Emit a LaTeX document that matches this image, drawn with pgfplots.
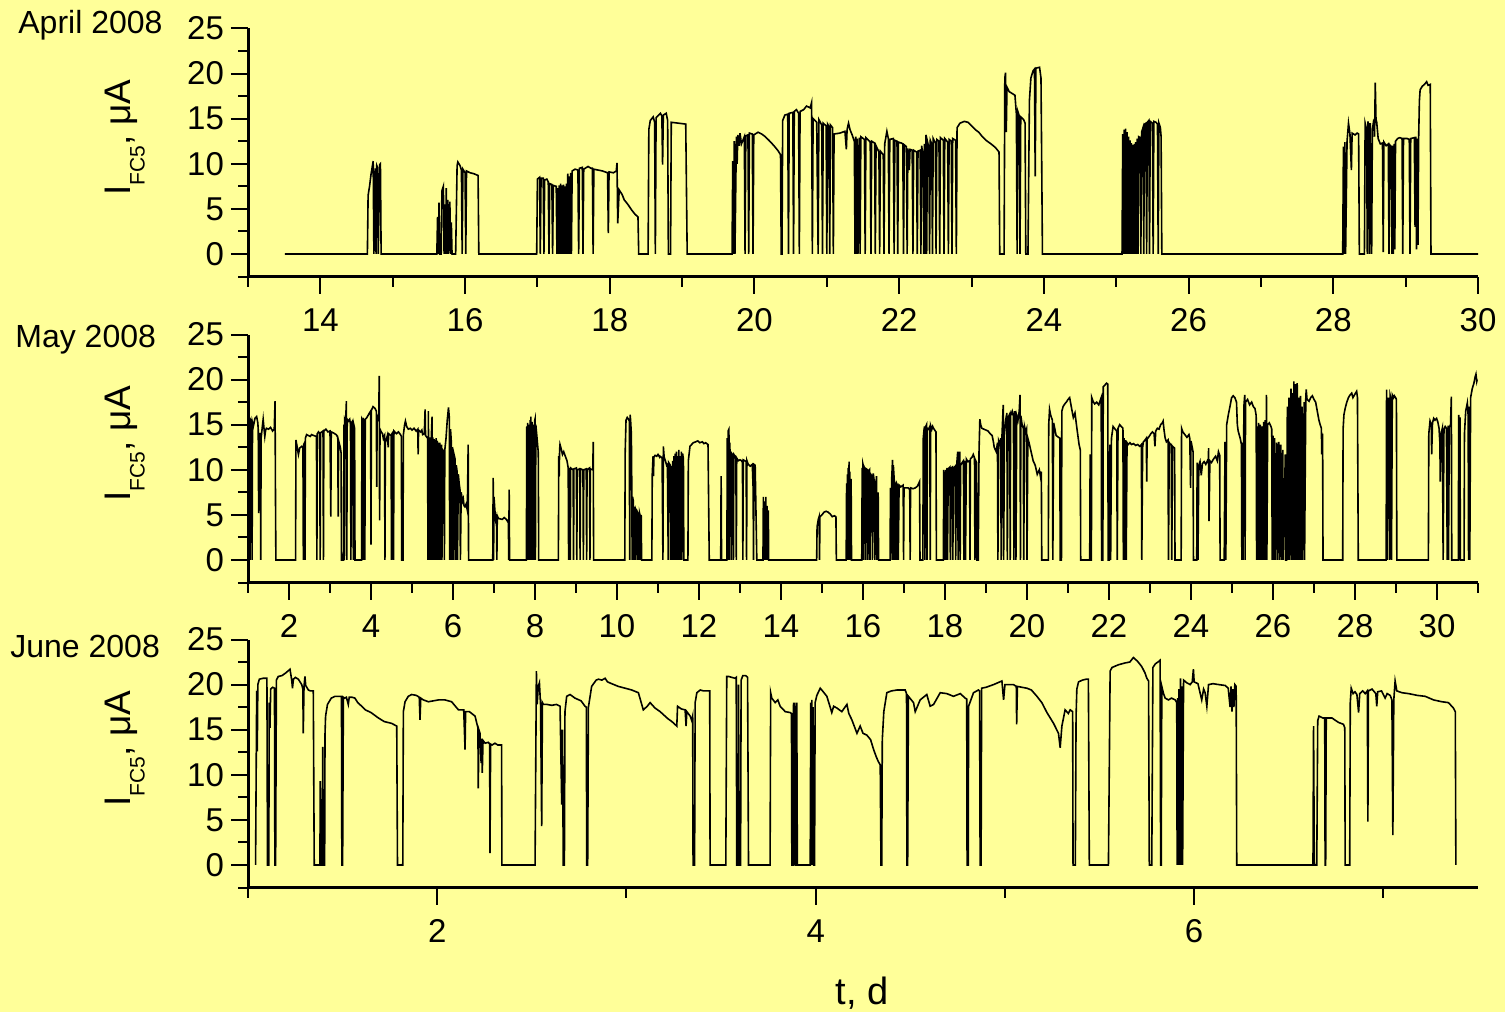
\documentclass[border=0pt]{standalone}
\usepackage{pgfplots}
\pgfplotsset{compat=1.18}
\usepackage{fontspec}
\setmainfont{Liberation Sans}
\definecolor{bgyellow}{RGB}{255,255,153}

\pgfplotsset{
  panel/.style={
    scale only axis, width=615pt, height=124pt,
    axis lines*=left,
    axis line style={line width=1.5pt},
    ymin=-2.5, ymax=25,
    ytick={0,5,...,25}, minor ytick={-2.5,2.5,...,22.5},
    tick align=outside,
    major tick length=8.5pt, minor tick length=5pt,
    every tick/.style={black, line width=1pt},
    tick label style={font=\fontsize{16.5}{16.5}\selectfont},
    xticklabel style={yshift=-4pt},
    /pgf/number format/assume math mode=true,
    ylabel={\fontsize{18.5}{18.5}\selectfont I\raisebox{-7pt}{\fontsize{10.5}{10.5}\selectfont FC5}, μA},
    ylabel style={at={(axis description cs:-0.100,0.56)}, anchor=center},
    clip=false,
  },
  signal/.style={black, line width=0.8pt, no marks},
}

\begin{document}
\begin{tikzpicture}
\useasboundingbox (0,0) rectangle (752.5pt,-506pt);
\fill[bgyellow] (0,0) rectangle (752.5pt,-506pt);

% April 2008
\begin{axis}[panel, at={(124pt,-138.25pt)}, anchor=south west,
    xmin=13, xmax=30, xtick={14,16,...,30}, minor xtick={13,15,...,29}]
\addplot[signal] coordinates {
(13.51,0)(14.65,0)(14.66,6.5)(14.68,7.5)(14.70,8.8)(14.72,9.8)(14.73,10.3)(14.74,0)(14.76,9.5)(14.77,0)(14.78,9.8)(14.79,9.6)(14.80,0)(14.82,9.9)(14.83,10.0)(14.84,0)
(15.61,0)(15.62,4.1)(15.63,0)(15.64,5.7)(15.65,0)(15.67,0)(15.68,7.0)(15.70,7.5)(15.71,0)(15.72,5.5)(15.73,0)(15.74,7.3)(15.75,0)(15.76,6.0)(15.77,0)(15.79,5.8)(15.80,0)(15.81,3.5)(15.82,0)(15.87,0)(15.89,9.8)(15.90,10.2)(15.93,9.8)(15.95,9.3)(15.96,0)(15.97,9.4)(16.00,9.0)(16.01,0)(16.02,9.2)(16.07,9.0)(16.12,8.9)(16.18,8.7)(16.19,0)
(16.99,0)(17.00,8.3)(17.03,8.5)(17.04,0)(17.05,8.4)(17.08,8.4)(17.09,0)(17.10,8.2)(17.13,8.3)(17.15,8.0)(17.16,0)(17.17,7.8)(17.20,7.7)(17.21,0)(17.22,7.6)(17.26,7.5)(17.27,0)(17.28,7.3)(17.29,0)(17.30,7.6)(17.31,0)(17.32,7.8)(17.33,0)(17.34,7.6)(17.35,0)(17.36,7.7)(17.37,0)(17.38,7.5)(17.39,0)(17.40,7.8)(17.41,0)(17.42,8.9)(17.43,0)(17.44,8.6)(17.45,0)(17.46,9.0)(17.47,0)(17.48,9.2)(17.52,9.4)(17.56,9.3)(17.57,0)(17.58,9.5)(17.62,9.6)(17.63,0)(17.64,9.4)(17.70,9.7)(17.74,9.5)(17.76,9.5)(17.77,0)(17.78,9.4)(17.84,9.3)(17.90,9.2)(17.97,9.0)(17.98,2.3)(17.99,9.1)(18.05,9.0)(18.09,9.2)(18.10,10.1)(18.11,3.4)(18.13,7.1)(18.17,6.6)(18.20,6.0)(18.25,5.5)(18.30,4.9)(18.35,4.4)(18.39,4.1)(18.40,0)
(18.53,0)(18.54,13.8)(18.56,14.8)(18.60,15.2)(18.62,14.6)(18.63,0)(18.64,15.1)(18.70,15.6)(18.72,15.3)(18.73,9.9)(18.74,15.4)(18.78,15.6)(18.80,14.8)(18.81,0)(18.84,0)(18.85,14.6)(18.95,14.5)(19.05,14.4)(19.07,0)
(19.69,0)(19.70,10.3)(19.71,0)(19.72,12.5)(19.73,0)(19.75,13.0)(19.76,10.0)(19.77,13.2)(19.79,12.0)(19.80,13.4)(19.82,12.2)(19.86,13.0)(19.87,0)(19.88,13.1)(19.91,13.2)(19.92,0)(19.93,13.4)(19.97,13.3)(19.98,0)(19.99,13.2)(20.05,13.5)(20.10,13.3)(20.15,13.0)(20.20,12.6)(20.27,12.0)(20.33,11.4)(20.36,11.0)(20.37,0)
(20.38,0)(20.39,14.8)(20.42,15.4)(20.46,15.5)(20.47,0)(20.48,15.6)(20.53,15.7)(20.54,0)(20.55,15.8)(20.58,16.0)(20.61,15.6)(20.62,0)(20.63,15.8)(20.68,16.0)(20.72,16.4)(20.77,16.2)(20.79,16.8)(20.80,0)(20.81,15.0)(20.86,14.6)(20.88,0)(20.89,14.9)(20.93,14.3)(20.94,0)(20.95,14.5)(20.99,14.2)(21.00,0)(21.01,14.4)(21.03,14.1)(21.04,0)(21.05,14.3)(21.08,14.0)(21.09,0)(21.10,13.3)(21.18,13.4)(21.25,13.6)(21.27,11.6)(21.28,13.8)(21.30,14.5)(21.32,13.8)(21.35,13.2)(21.38,12.5)(21.39,0)(21.40,13.0)(21.41,0)(21.42,12.8)(21.43,0)(21.45,12.9)(21.46,0)(21.47,13.0)(21.52,12.7)(21.53,0)(21.54,12.9)(21.60,12.4)(21.61,0)(21.62,12.5)(21.66,12.3)(21.67,0)(21.68,12.0)(21.72,11.3)(21.73,0)(21.74,11.4)(21.78,11.0)(21.79,0)(21.80,12.2)(21.83,13.6)(21.85,12.8)(21.86,0)(21.87,12.7)(21.92,12.8)(21.93,0)(21.94,12.6)(21.97,12.5)(21.98,0)(21.99,12.4)(22.03,12.3)(22.05,12.2)(22.06,0)(22.07,12.1)(22.10,11.9)(22.11,0)(22.12,11.7)(22.14,9.3)(22.15,11.6)(22.18,11.5)(22.19,0)(22.20,11.5)(22.24,11.3)(22.25,0)(22.26,11.4)(22.29,11.5)(22.30,0)(22.31,12.0)(22.33,11.0)(22.34,0)(22.35,12.2)(22.36,0)(22.37,13.2)(22.38,0)(22.39,12.5)(22.41,11.8)(22.42,0)(22.43,12.6)(22.45,12.2)(22.46,0)(22.47,12.8)(22.50,12.3)(22.51,0)(22.52,12.7)(22.55,12.5)(22.56,0)(22.57,12.9)(22.61,12.6)(22.62,0)(22.63,12.8)(22.67,12.4)(22.68,0)(22.69,12.7)(22.72,12.5)(22.73,0)(22.74,12.8)(22.78,12.6)(22.79,0)(22.80,14.0)(22.84,14.5)(22.90,14.7)(22.95,14.6)(23.00,14.2)(23.05,13.8)(23.10,13.5)(23.15,13.0)(23.20,12.6)(23.27,12.2)(23.33,11.8)(23.38,11.3)(23.39,0)
(23.45,0)(23.46,19.5)(23.47,20.1)(23.48,13.5)(23.49,18.5)(23.52,18.0)(23.56,17.8)(23.60,17.6)(23.62,15.5)(23.63,0)(23.64,15.8)(23.66,15.3)(23.67,0)(23.68,15.2)(23.72,14.9)(23.74,14.5)(23.75,0)(23.78,0)(23.80,17.0)(23.82,19.5)(23.85,20.3)(23.87,20.5)(23.88,8.6)(23.89,20.6)(23.94,20.7)(23.96,19.5)(23.97,10.0)(23.98,0)
(25.08,0)(25.09,13.3)(25.10,0)(25.11,13.8)(25.12,0)(25.13,13.9)(25.14,0)(25.15,13.5)(25.16,0)(25.17,13.0)(25.18,0)(25.19,12.6)(25.20,0)(25.21,12.3)(25.22,0)(25.23,12.1)(25.24,0)(25.25,12.2)(25.26,0)(25.27,12.4)(25.28,0)(25.29,12.8)(25.30,0)(25.31,13.0)(25.33,12.9)(25.34,0)(25.35,13.5)(25.37,14.0)(25.38,0)(25.39,14.4)(25.41,14.5)(25.42,0)(25.43,14.6)(25.45,14.8)(25.46,0)(25.47,14.7)(25.50,14.5)(25.51,0)(25.52,14.7)(25.55,14.6)(25.57,14.4)(25.58,0)(25.59,14.5)(25.61,14.0)(25.62,13.0)(25.63,0)
(28.13,0)(28.14,11.9)(28.15,0)(28.16,12.4)(28.17,0)(28.19,12.5)(28.21,14.5)(28.23,13.3)(28.25,9.3)(28.26,13.4)(28.30,13.2)(28.33,13.4)(28.35,13.3)(28.36,0)(28.43,0)(28.44,14.5)(28.46,13.8)(28.47,0)(28.48,14.7)(28.49,13.9)(28.50,0)(28.51,14.5)(28.53,0)(28.54,13.8)(28.56,14.9)(28.57,13.0)(28.58,19.0)(28.59,14.9)(28.60,14.6)(28.62,12.8)(28.65,12.2)(28.68,12.3)(28.69,0.2)(28.70,12.4)(28.73,12.0)(28.76,12.2)(28.77,0)(28.78,12.1)(28.80,11.9)(28.81,0)(28.82,12.0)(28.83,0)(28.84,12.2)(28.85,0.5)(28.86,12.5)(28.89,12.8)(28.92,12.9)(28.95,12.8)(28.96,0)(28.97,12.8)(29.02,12.8)(29.05,12.7)(29.06,0)(29.07,12.8)(29.12,12.9)(29.13,3.0)(29.14,13.0)(29.15,0.5)(29.16,12.8)(29.17,1.0)(29.18,13.0)(29.19,17.0)(29.20,18.2)(29.23,18.6)(29.26,18.8)(29.29,19.1)(29.31,18.7)(29.34,18.8)(29.35,0)(30.00,0)
};
\end{axis}

% May 2008
\begin{axis}[panel, at={(124pt,-291.25pt)}, anchor=south west,
    xmin=1, xmax=31, xtick={2,4,...,30}, minor xtick={1,3,...,31}]
\addplot[signal] coordinates {
(1.00,15.2)(1.01,0)(1.02,15.8)(1.04,15.5)(1.05,0)(1.06,15.6)(1.09,15.4)(1.10,0)(1.11,15.2)(1.13,14.8)(1.17,15.7)(1.21,15.9)(1.24,15.2)(1.25,14.4)(1.26,5.2)(1.27,14.0)(1.30,14.0)(1.31,0)(1.32,13.5)(1.35,14.8)(1.37,15.6)(1.39,14.6)(1.41,13.7)(1.43,14.4)(1.45,14.6)(1.50,14.5)(1.55,14.7)(1.60,14.3)(1.64,14.5)(1.66,17.6)(1.67,7.4)(1.68,0)
(2.16,0)(2.17,13.3)(2.20,12.5)(2.23,11.7)(2.26,12.4)(2.31,12.6)(2.34,12.5)(2.35,0)(2.36,12.8)(2.38,13.0)(2.39,0)(2.40,13.5)(2.43,13.9)(2.47,13.8)(2.52,13.7)(2.55,13.9)(2.60,13.8)(2.67,13.7)(2.68,0)(2.69,14.0)(2.72,14.2)(2.75,14.0)(2.76,0)(2.77,14.1)(2.83,14.3)(2.84,0)(2.85,14.3)(2.90,14.5)(2.95,14.2)(3.00,14.3)(3.02,4.8)(3.03,14.2)(3.08,14.1)(3.15,13.9)(3.19,13.6)(3.20,4.8)(3.21,13.2)(3.25,12.5)(3.27,11.9)(3.28,0)(3.33,0)(3.34,15.0)(3.35,0)(3.36,15.5)(3.38,15.2)(3.40,17.6)(3.41,0)(3.42,15.6)(3.45,15.4)(3.48,15.6)(3.50,15.0)(3.51,0)(3.52,15.2)(3.55,15.4)(3.57,0)(3.58,15.0)(3.60,14.6)(3.61,0)
(3.77,0)(3.78,15.6)(3.80,15.4)(3.81,0)(3.82,15.6)(3.84,15.5)(3.85,0)(3.86,15.6)(3.90,15.8)(3.95,16.2)(3.99,16.5)(4.00,1.7)(4.01,16.6)(4.05,17.0)(4.10,16.8)(4.13,16.5)(4.14,8.1)(4.15,16.0)(4.19,15.5)(4.20,20.4)(4.21,4.4)(4.22,14.5)(4.25,14.2)(4.28,14.0)(4.30,13.5)(4.33,13.8)(4.34,0)(4.35,13.0)(4.40,13.8)(4.42,12.5)(4.43,14.0)(4.49,13.8)(4.50,0)(4.51,14.0)(4.54,14.2)(4.55,0)(4.56,14.3)(4.62,14.0)(4.67,14.2)(4.72,13.9)(4.74,13.7)(4.75,0)(4.78,0)(4.79,13.9)(4.82,15.0)(4.84,15.4)(4.87,14.8)(4.91,14.5)(4.96,14.6)(5.00,14.4)(5.05,14.6)(5.10,14.3)(5.14,14.5)(5.15,11.7)(5.16,14.4)(5.21,14.2)(5.24,14.4)(5.26,13.9)(5.30,14.0)(5.32,16.7)(5.33,13.8)(5.38,13.5)(5.39,0)(5.40,16.5)(5.41,0)(5.42,13.4)(5.44,0)(5.45,13.6)(5.46,0)(5.47,13.5)(5.49,15.9)(5.50,0)(5.51,13.6)(5.52,0)(5.54,13.4)(5.55,0)(5.56,13.3)(5.58,0)(5.59,13.5)(5.61,0)(5.62,13.2)(5.64,0)(5.65,13.0)(5.66,0)(5.68,13.0)(5.70,0)(5.72,12.8)(5.73,0)(5.75,12.2)(5.78,12.0)(5.79,0)(5.80,12.2)(5.83,13.5)(5.86,15.5)(5.89,16.9)(5.91,15.8)(5.92,0)(5.94,14.5)(5.96,13.0)(5.97,0)(5.98,12.5)(6.00,11.5)(6.01,0)(6.02,11.8)(6.05,11.2)(6.06,0)(6.08,10.5)(6.10,9.8)(6.11,0)(6.13,9.5)(6.15,8.5)(6.17,7.8)(6.18,0)(6.20,7.5)(6.23,6.5)(6.25,6.8)(6.27,6.0)(6.29,5.9)(6.32,6.2)(6.35,5.5)(6.37,12.8)(6.38,0)
(6.97,0)(6.98,9.1)(6.99,0)(7.00,7.0)(7.02,5.6)(7.04,4.5)(7.06,4.8)(7.07,0)(7.08,4.9)(7.11,4.6)(7.20,4.5)(7.25,4.7)(7.30,4.5)(7.34,4.2)(7.35,4.5)(7.36,0)(7.37,7.8)(7.38,0)
(7.79,0)(7.80,14.8)(7.81,0)(7.82,15.2)(7.84,0)(7.85,15.0)(7.86,0)(7.88,15.5)(7.89,0)(7.90,15.9)(7.91,0)(7.93,15.3)(7.94,0)(7.96,15.0)(7.97,0)(7.99,15.4)(8.00,15.6)(8.01,0)(8.02,15.0)(8.05,13.5)(8.08,11.9)(8.09,0)
(8.57,0)(8.58,11.5)(8.59,9.3)(8.60,12.2)(8.61,12.8)(8.64,12.3)(8.67,11.7)(8.70,12.0)(8.74,11.5)(8.78,11.0)(8.81,10.2)(8.82,0)(8.83,10.1)(8.85,10.0)(8.86,0)(8.87,10.2)(8.93,10.0)(8.94,0)(8.95,10.1)(9.01,10.2)(9.02,0)(9.03,10.0)(9.09,10.1)(9.10,0)(9.11,10.1)(9.17,10.0)(9.18,0)(9.19,10.0)(9.25,10.1)(9.26,0)(9.27,10.0)(9.33,10.2)(9.34,0)(9.35,10.1)(9.41,10.0)(9.42,13.1)(9.43,0)
(10.19,0)(10.20,12.0)(10.22,15.5)(10.25,15.8)(10.28,15.6)(10.30,15.4)(10.31,0)(10.32,16.1)(10.33,15.6)(10.35,14.0)(10.36,8.5)(10.37,0)(10.38,7.0)(10.40,6.5)(10.41,0)(10.43,5.9)(10.44,0)(10.46,5.5)(10.48,5.2)(10.49,0)(10.50,5.3)(10.52,5.1)(10.53,0)(10.55,5.2)(10.57,4.8)(10.58,0)(10.59,5.0)(10.60,0)
(10.85,0)(10.86,9.5)(10.88,11.5)(10.89,9.3)(10.90,11.4)(10.93,11.6)(10.97,11.5)(11.00,11.7)(11.04,11.4)(11.05,11.5)(11.10,11.3)(11.12,0)(11.13,12.6)(11.15,11.4)(11.18,11.0)(11.21,10.5)(11.23,10.6)(11.25,0)(11.26,10.8)(11.30,10.5)(11.31,0)(11.33,10.4)(11.35,0)(11.36,11.0)(11.38,0)(11.39,11.5)(11.40,0)(11.42,11.8)(11.43,0)(11.45,12.0)(11.46,0)(11.48,11.5)(11.49,0)(11.51,12.2)(11.52,0)(11.54,11.5)(11.55,0)(11.57,12.0)(11.58,0)(11.60,11.8)(11.62,11.2)(11.63,0)
(11.73,0)(11.74,11.0)(11.78,12.6)(11.82,12.8)(11.86,13.0)(11.92,13.1)(11.97,13.2)(12.02,13.0)(12.08,13.1)(12.12,12.9)(12.16,13.0)(12.22,12.8)(12.25,0)
(12.53,0)(12.54,9.3)(12.55,0)(12.68,0)(12.69,13.5)(12.70,0)(12.71,14.3)(12.73,14.5)(12.74,0)(12.75,13.0)(12.76,11.5)(12.78,11.4)(12.79,0)(12.80,11.8)(12.83,11.6)(12.84,0)(12.85,11.7)(12.88,11.5)(12.90,11.2)(12.91,0)(12.92,11.3)(12.96,11.0)(13.00,11.1)(13.04,11.0)(13.06,10.8)(13.07,0)(13.08,11.1)(13.12,11.0)(13.15,10.9)(13.16,0)(13.17,11.0)(13.20,10.6)(13.25,10.4)(13.30,10.6)(13.32,8.0)(13.33,0)(13.34,10.6)(13.37,10.5)(13.41,0)
(13.56,0)(13.57,7.0)(13.58,0)(13.59,6.5)(13.60,0)(13.61,5.9)(13.62,0)(13.63,7.0)(13.64,0)(13.66,6.0)(13.67,0)(13.69,5.5)(13.70,0)
(14.87,0)(14.88,3.7)(14.91,4.5)(14.93,4.8)(14.94,0)(14.95,4.8)(15.00,5.0)(15.05,5.3)(15.10,5.4)(15.15,5.3)(15.20,5.1)(15.25,4.8)(15.30,4.9)(15.34,4.8)(15.35,0)
(15.59,0)(15.60,8.5)(15.61,0)(15.62,9.5)(15.63,0)(15.64,10.2)(15.65,0)(15.66,10.9)(15.67,0)(15.68,9.8)(15.69,0)(15.71,9.0)(15.72,0)
(15.97,0)(15.98,10.2)(15.99,0)(16.00,10.6)(16.01,10.4)(16.02,0)(16.03,10.3)(16.06,10.0)(16.07,0)(16.08,10.1)(16.11,10.0)(16.12,0)(16.13,9.8)(16.16,10.0)(16.17,0)(16.19,9.5)(16.22,9.3)(16.23,0)(16.25,9.6)(16.28,8.5)(16.29,0)(16.31,8.0)(16.33,9.3)(16.34,0)(16.36,7.0)(16.37,7.5)(16.38,0)
(16.66,0)(16.67,8.0)(16.68,0)(16.70,9.0)(16.72,11.1)(16.73,0)(16.74,10.5)(16.76,9.0)(16.77,0)(16.78,8.5)(16.80,8.3)(16.81,0)(16.82,8.5)(16.85,8.2)(16.86,0)(16.88,8.3)(16.92,8.1)(16.95,8.2)(16.98,8.3)(16.99,0)(17.00,8.0)(17.05,8.0)(17.10,8.0)(17.14,7.8)(17.15,0)(17.16,8.0)(17.22,7.9)(17.28,8.0)(17.33,8.2)(17.38,8.7)(17.39,0)
(17.46,0)(17.47,13.5)(17.49,14.5)(17.50,14.8)(17.51,0)(17.52,14.7)(17.55,15.0)(17.56,0)(17.57,14.6)(17.60,14.5)(17.63,14.8)(17.64,0)(17.65,14.9)(17.68,14.5)(17.70,14.8)(17.72,14.6)(17.78,14.2)(17.79,0)
(17.96,0)(17.97,10.0)(17.98,0)(17.99,9.8)(18.00,0)(18.02,10.0)(18.03,0)(18.05,10.2)(18.06,0)(18.08,10.1)(18.12,10.3)(18.13,0)(18.15,10.2)(18.18,10.3)(18.19,0)(18.21,10.2)(18.25,10.4)(18.26,0)(18.28,10.2)(18.31,12.0)(18.32,0)(18.34,10.3)(18.36,12.0)(18.37,0)(18.38,10.5)(18.42,10.8)(18.45,11.0)(18.46,0)(18.48,11.0)(18.50,0)(18.52,11.2)(18.56,10.9)(18.60,11.0)(18.61,0)(18.62,11.2)(18.66,11.4)(18.69,11.7)(18.72,11.3)(18.73,0)(18.75,11.0)(18.77,10.8)(18.78,0)
(18.81,0)(18.83,12.0)(18.85,15.6)(18.87,15.0)(18.90,14.6)(18.95,14.5)(19.00,14.4)(19.05,14.3)(19.10,14.0)(19.15,13.8)(19.18,13.1)(19.20,12.5)(19.25,12.0)(19.28,13.0)(19.29,0)(19.31,13.2)(19.34,12.8)(19.36,13.5)(19.37,0)(19.39,13.8)(19.42,17.2)(19.43,0)(19.45,14.0)(19.48,15.5)(19.51,16.3)(19.52,0)(19.54,15.8)(19.58,16.2)(19.59,0)(19.60,16.0)(19.64,16.5)(19.67,15.9)(19.68,0)(19.70,16.5)(19.72,15.0)(19.73,0)(19.75,16.0)(19.78,15.5)(19.81,16.5)(19.83,18.3)(19.84,0)(19.85,16.0)(19.88,15.0)(19.91,14.6)(19.92,0)(19.94,14.8)(19.97,14.2)(19.99,14.5)(20.00,0)(20.02,13.5)(20.05,13.0)(20.10,12.0)(20.15,11.0)(20.20,10.5)(20.25,9.5)(20.30,10.0)(20.33,9.2)(20.35,9.8)(20.36,0)
(20.52,0)(20.53,15.0)(20.55,16.7)(20.58,16.0)(20.62,15.5)(20.63,0)(20.65,15.2)(20.68,14.5)(20.71,13.8)(20.80,13.5)(20.81,0)
(20.84,0)(20.85,16.5)(20.88,17.0)(20.92,17.3)(20.96,17.5)(21.00,17.8)(21.04,18.0)(21.08,17.0)(21.10,16.5)(21.13,15.8)(21.17,16.3)(21.22,14.5)(21.27,12.8)(21.30,12.2)(21.31,0)
(21.53,0)(21.54,11.7)(21.55,0)(21.57,0)(21.58,18.0)(21.61,17.6)(21.65,17.3)(21.70,17.5)(21.75,17.2)(21.81,18.0)(21.82,0)(21.85,0)(21.86,19.2)(21.90,19.4)(21.94,19.6)(21.97,19.5)(21.98,0)
(22.01,0)(22.02,12.8)(22.04,0)(22.06,13.5)(22.10,14.8)(22.15,14.5)(22.19,14.3)(22.20,0)(22.22,14.6)(22.26,15.0)(22.30,14.8)(22.34,14.6)(22.35,0)(22.37,13.5)(22.38,0)(22.40,13.3)(22.42,0)(22.44,13.0)(22.47,12.8)(22.51,13.0)(22.55,12.8)(22.60,12.9)(22.65,12.7)(22.70,12.8)(22.75,12.6)(22.79,12.8)(22.80,0)(22.82,12.5)(22.84,13.1)(22.88,13.3)(22.91,13.5)(22.92,8.7)(22.93,13.4)(22.98,13.7)(23.02,14.0)(23.06,14.2)(23.10,14.0)(23.12,12.6)(23.14,14.3)(23.18,14.6)(23.22,14.5)(23.26,15.0)(23.30,15.2)(23.32,15.4)(23.34,14.5)(23.37,13.5)(23.40,13.1)(23.44,13.3)(23.45,0)(23.47,13.0)(23.50,12.8)(23.52,12.8)(23.53,0)(23.55,12.6)(23.60,12.4)(23.61,0)
(23.76,0)(23.77,14.6)(23.80,14.2)(23.85,13.9)(23.90,13.6)(23.95,13.9)(23.97,13.5)(23.99,8.0)(24.00,13.2)(24.05,12.0)(24.06,0)
(24.14,0)(24.15,10.8)(24.17,0)(24.19,10.5)(24.22,10.9)(24.25,9.4)(24.28,10.7)(24.32,10.9)(24.36,10.6)(24.40,11.0)(24.42,10.8)(24.43,12.4)(24.44,4.3)(24.46,11.0)(24.50,10.8)(24.55,11.2)(24.60,11.5)(24.64,11.0)(24.67,12.0)(24.70,11.6)(24.71,0)
(24.81,0)(24.83,13.1)(24.85,0)(24.87,15.0)(24.91,16.1)(24.95,17.0)(24.99,18.0)(25.03,18.2)(25.07,18.0)(25.11,17.5)(25.13,15.0)(25.15,14.3)(25.20,13.5)(25.23,12.8)(25.24,0)(25.26,13.0)(25.27,0)(25.29,17.0)(25.31,18.3)(25.32,0)(25.33,17.5)(25.38,17.8)(25.43,17.2)(25.48,17.5)(25.52,17.0)(25.56,16.8)(25.59,16.0)(25.60,0)(25.62,14.8)(25.63,0)(25.65,15.2)(25.67,0)(25.69,15.0)(25.71,0)(25.73,14.8)(25.75,0)(25.77,15.3)(25.79,0)(25.81,15.5)(25.82,0)(25.84,18.3)(25.85,0)(25.87,15.0)(25.91,15.2)(25.95,14.8)(25.97,14.5)(25.98,0)(26.00,13.8)(26.01,0)(26.04,13.5)(26.05,0)(26.09,13.0)(26.10,0)(26.14,13.1)(26.15,0)(26.19,12.8)(26.20,0)(26.24,12.2)(26.25,0)(26.30,11.7)(26.31,0)
(26.33,0)(26.35,17.0)(26.36,0)(26.39,18.0)(26.40,0)(26.44,19.0)(26.45,0)(26.48,18.5)(26.49,0)(26.51,19.8)(26.52,0)(26.55,19.5)(26.56,0)(26.59,19.6)(26.60,0)(26.63,18.0)(26.64,0)(26.67,18.2)(26.68,0)(26.71,17.0)(26.72,0)(26.76,17.5)(26.77,0)(26.80,18.0)(26.81,18.9)(26.83,17.8)(26.88,17.6)(26.92,18.0)(26.96,18.2)(27.00,17.8)(27.04,17.5)(27.08,16.5)(27.12,15.5)(27.15,15.0)(27.18,14.6)(27.19,11.7)(27.21,14.0)(27.22,0)
(27.70,0)(27.71,14.5)(27.73,16.1)(27.76,16.8)(27.80,17.5)(27.84,18.0)(27.88,18.3)(27.92,18.5)(27.95,18.0)(28.00,18.4)(28.04,18.7)(28.06,18.0)(28.08,0)
(28.76,0)(28.77,18.9)(28.78,0)(28.80,17.5)(28.82,18.0)(28.84,0)(28.86,18.2)(28.88,17.8)(28.89,0)(28.91,18.3)(28.94,18.0)(28.96,18.2)(28.99,18.0)(29.01,17.8)(29.02,0)
(29.79,0)(29.80,14.0)(29.83,15.4)(29.86,15.0)(29.87,11.7)(29.89,15.2)(29.92,15.7)(29.95,15.5)(29.99,15.7)(30.02,15.3)(30.05,14.6)(30.07,13.0)(30.08,8.7)(30.10,14.0)(30.13,14.6)(30.15,0)(30.17,14.5)(30.20,14.8)(30.23,14.6)(30.25,0)(30.27,14.9)(30.28,0)(30.30,14.7)(30.33,15.0)(30.35,18.1)(30.36,0)
(30.52,0)(30.53,16.1)(30.54,0)(30.56,15.8)(30.57,0)(30.66,0)(30.67,14.0)(30.70,16.5)(30.74,17.4)(30.76,16.0)(30.77,0)(30.79,17.0)(30.80,0)(30.82,18.0)(30.86,19.0)(30.90,19.6)(30.93,20.3)(30.95,20.6)(30.97,19.8)(30.98,20.0)
};
\end{axis}

% June 2008
\begin{axis}[panel, at={(124pt,-443.75pt)}, anchor=south west,
    xmin=1, xmax=7.5, xtick={2,4,6}, minor xtick={1,3,5,7}]
\addplot[signal] coordinates {
(1.040,0)(1.046,19.3)(1.049,12.6)(1.052,20.0)(1.060,20.6)(1.080,20.7)(1.100,20.7)(1.103,0)
(1.110,0)(1.112,18.0)(1.116,15.2)(1.120,19.5)(1.130,19.7)(1.140,19.6)(1.142,0)
(1.146,0)(1.150,20.5)(1.160,20.9)(1.180,21.0)(1.200,21.3)(1.222,21.7)(1.231,20.5)(1.235,19.6)(1.240,20.6)(1.250,20.8)(1.266,20.6)(1.284,20.0)(1.290,19.5)(1.292,14.6)(1.296,19.8)(1.301,20.9)(1.305,19.9)(1.319,19.4)(1.330,19.3)(1.345,19.3)(1.350,0)
(1.380,0)(1.382,9.3)(1.386,0)(1.392,0)(1.395,13.1)(1.398,0)(1.405,0)(1.407,14.5)(1.410,16.5)(1.420,17.8)(1.440,18.5)(1.460,18.7)(1.480,18.7)(1.494,18.7)(1.496,0)(1.500,0)(1.504,18.6)(1.510,18.5)(1.520,18.6)(1.530,17.8)(1.535,18.6)(1.550,18.6)(1.565,18.5)(1.580,18.0)(1.601,17.6)(1.620,17.2)(1.650,16.9)(1.689,16.3)(1.720,15.9)(1.759,15.7)(1.786,15.4)(1.790,0)
(1.818,0)(1.821,17.0)(1.830,18.1)(1.847,18.7)(1.865,18.9)(1.890,18.8)(1.905,18.6)(1.909,16.1)(1.913,18.5)(1.927,18.3)(1.953,18.1)(1.980,18.2)(2.006,18.3)(2.041,18.3)(2.076,18.1)(2.100,17.5)(2.112,17.2)(2.140,17.2)(2.147,12.8)(2.150,17.0)(2.170,17.0)(2.182,16.8)(2.200,16.5)(2.215,15.2)(2.217,8.5)(2.220,15.0)(2.226,14.6)(2.232,11.3)(2.235,14.0)(2.238,10.2)(2.242,13.8)(2.253,13.5)(2.270,13.6)(2.277,13.4)(2.279,1.3)(2.282,13.4)(2.290,13.3)(2.305,13.5)(2.320,13.3)(2.340,13.3)(2.342,0)
(2.517,0)(2.524,21.5)(2.528,17.8)(2.534,19.8)(2.540,20.2)(2.546,17.8)(2.552,4.3)(2.556,18.0)(2.561,17.8)(2.580,17.8)(2.605,17.7)(2.630,17.8)(2.649,17.6)(2.658,6.7)(2.662,15.0)(2.666,0)(2.672,0)(2.675,17.0)(2.684,18.7)(2.702,18.9)(2.728,18.5)(2.760,18.2)(2.781,17.6)(2.788,17.5)(2.790,0)
(2.795,0)(2.799,17.5)(2.816,19.8)(2.840,20.5)(2.852,20.6)(2.870,20.5)(2.887,20.7)(2.900,20.3)(2.922,20.1)(2.957,19.8)(2.993,19.6)(3.028,19.4)(3.063,19.1)(3.089,17.2)(3.110,17.6)(3.125,18.0)(3.151,17.4)(3.178,17.0)(3.204,16.5)(3.220,16.2)(3.240,15.9)(3.266,15.4)(3.270,17.6)(3.290,17.3)(3.310,17.2)(3.315,15.4)(3.319,17.0)(3.337,16.5)(3.345,16.0)(3.350,16.5)(3.352,0)
(3.360,0)(3.363,18.0)(3.372,19.1)(3.390,19.4)(3.407,19.3)(3.433,19.3)(3.440,19.3)(3.442,0)
(3.525,0)(3.530,20.9)(3.540,20.9)(3.557,20.8)(3.574,20.7)(3.580,20.8)(3.583,0)(3.590,0)(3.592,20.0)(3.596,0)(3.603,0)(3.606,20.5)(3.615,21.0)(3.630,21.0)(3.640,20.8)(3.645,0)
(3.759,0)(3.762,19.1)(3.768,18.5)(3.786,18.0)(3.800,18.3)(3.812,17.6)(3.839,17.0)(3.865,16.9)(3.872,16.8)(3.874,0)(3.880,0)(3.883,18.0)(3.886,0)(3.889,18.0)(3.891,0)(3.898,0)(3.900,18.0)(3.903,0)
(3.971,0)(3.974,18.0)(3.977,0)(3.980,18.3)(3.983,0)(3.986,17.5)(3.989,0)(3.994,0)(3.997,18.0)(4.006,18.8)(4.024,19.6)(4.040,19.2)(4.059,18.7)(4.075,17.6)(4.085,16.9)(4.095,17.6)(4.112,17.4)(4.138,17.0)(4.165,17.8)(4.175,16.8)(4.191,16.1)(4.218,14.6)(4.235,15.4)(4.250,14.6)(4.270,14.4)(4.290,13.9)(4.306,12.8)(4.320,12.0)(4.330,11.5)(4.341,11.1)(4.345,0)
(4.349,0)(4.352,13.9)(4.360,17.0)(4.376,19.1)(4.400,19.3)(4.430,19.4)(4.473,19.4)(4.480,19.0)(4.482,0)(4.486,0)(4.490,18.7)(4.517,18.0)(4.526,17.0)(4.552,18.3)(4.587,18.9)(4.605,17.6)(4.623,17.8)(4.658,19.1)(4.693,19.0)(4.728,18.7)(4.764,19.0)(4.790,18.5)(4.798,18.4)(4.800,0)
(4.806,0)(4.808,17.6)(4.834,19.1)(4.860,19.4)(4.866,19.3)(4.869,0)(4.874,0)(4.877,19.6)(4.900,19.7)(4.940,20.0)(4.984,20.4)(4.993,18.3)(5.000,20.0)(5.045,20.0)(5.060,19.8)(5.062,15.6)(5.066,19.8)(5.090,19.7)(5.116,19.6)(5.140,19.4)(5.169,18.7)(5.195,18.0)(5.222,16.9)(5.257,15.7)(5.283,14.6)(5.292,13.0)(5.301,15.4)(5.318,17.2)(5.335,16.8)(5.345,17.2)(5.358,17.0)(5.360,0)
(5.372,0)(5.376,16.5)(5.380,19.5)(5.389,20.3)(5.410,20.5)(5.430,20.6)(5.441,20.6)(5.446,0)
(5.547,0)(5.556,21.5)(5.566,21.9)(5.600,22.2)(5.635,22.4)(5.660,22.5)(5.679,23.0)(5.700,22.6)(5.723,22.0)(5.740,21.3)(5.750,20.7)(5.759,20.4)(5.763,0)
(5.776,0)(5.782,21.9)(5.795,22.3)(5.815,22.6)(5.820,22.7)(5.823,0)(5.826,0)(5.829,19.8)(5.838,19.0)(5.847,18.5)(5.864,18.3)(5.880,18.5)(5.900,18.3)(5.908,18.0)(5.910,0)(5.913,18.5)(5.917,0)(5.920,19.5)(5.924,0)(5.928,20.7)(5.932,0)(5.936,19.8)(5.939,0)(5.944,20.5)(5.961,20.2)(5.979,20.0)(5.990,20.3)(5.996,21.7)(6.000,20.3)(6.020,20.1)(6.040,18.3)(6.050,19.5)(6.058,19.1)(6.067,17.6)(6.076,20.0)(6.100,20.1)(6.130,20.0)(6.164,19.9)(6.180,19.6)(6.190,17.5)(6.195,19.8)(6.200,17.0)(6.205,19.5)(6.210,17.5)(6.215,20.0)(6.222,19.8)(6.225,0)
(6.628,0)(6.631,15.4)(6.635,0)(6.648,0)(6.653,16.0)(6.660,16.5)(6.680,16.3)(6.690,16.3)(6.692,0)(6.695,0)(6.698,16.3)(6.728,16.3)(6.763,15.8)(6.789,15.6)(6.796,15.2)(6.798,0)
(6.822,0)(6.825,18.0)(6.830,19.6)(6.840,19.0)(6.850,19.2)(6.860,18.9)(6.869,16.9)(6.875,19.0)(6.890,19.3)(6.904,19.0)(6.915,19.3)(6.918,4.8)(6.921,19.3)(6.940,19.5)(6.948,19.3)(6.960,19.0)(6.965,17.6)(6.970,19.2)(6.990,19.3)(7.009,18.5)(7.020,19.0)(7.036,18.8)(7.045,18.3)(7.050,3.3)(7.055,18.3)(7.062,20.4)(7.071,19.3)(7.098,19.1)(7.133,19.0)(7.180,18.8)(7.221,18.7)(7.265,18.3)(7.309,18.1)(7.344,18.0)(7.370,17.4)(7.380,17.0)(7.383,0)
};
\end{axis}

% panel titles and time label
\node[anchor=base west, inner sep=0pt, font=\fontsize{16}{16}\selectfont] at (9pt,-16.5pt) {April 2008};
\node[anchor=base west, inner sep=0pt, font=\fontsize{16}{16}\selectfont] at (7.5pt,-173.5pt) {May 2008};
\node[anchor=base west, inner sep=0pt, font=\fontsize{16}{16}\selectfont] at (5pt,-328.5pt) {June 2008};
\node[anchor=base, inner sep=0pt, font=\fontsize{19}{19}\selectfont] at (431pt,-502pt) {t, d};
\end{tikzpicture}
\end{document}
